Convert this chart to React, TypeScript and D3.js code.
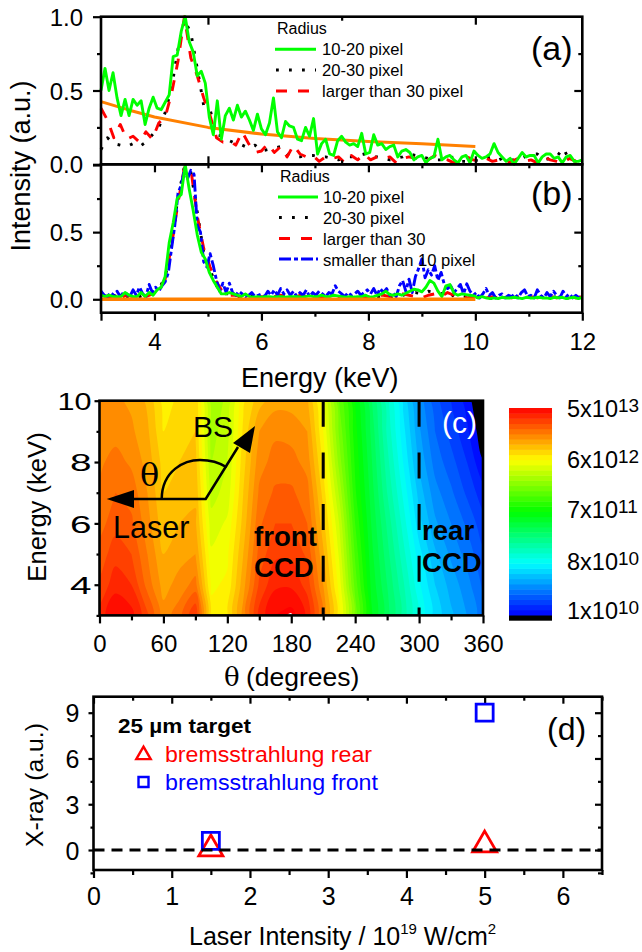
import React, { useEffect, useRef } from "react";
import * as d3 from "d3";

// panel (a), sampled every 0.075 keV
const greenStep = 0.075;
const greenA = [
  .50,.65,.50,.62,.45,.33,.44,.33,.44,.40,
  .43,.27,.38,.455,.38,.37,.42,.47,.73,.74,
  .90,1.0,.83,.76,.60,.63,.55,.32,.20,.43,
  .17,.33,.38,.30,.40,.32,.36,.30,.23,.34,
  .24,.20,.28,.45,.22,.18,.29,.26,.25,.17,
  .16,.25,.19,.31,.07,.14,.17,.07,.06,.16,
  .19,.15,.13,.14,.12,.21,.07,.08,.20,.13,
  .14,.10,.12,.13,.05,.09,.10,.08,.03,.05,
  .06,.01,.04,.05,.17,.03,.05,.06,.03,.01,
  .05,.06,.01,.09,.06,.04,.05,.07,.14,.08,
  .05,.02,.04,.00,.04,.08,.05,.06,.06,.01,
  .05,.07,.07,.04,.05,.01,.05,.06,.02,.02,
  .03,
];
const greenB = [
  .03,.02,.03,.02,.02,.02,.05,.03,.02,.02,
  .05,.02,.05,.03,.07,.09,.17,.42,.57,.75,
  .78,1.0,.82,.66,.48,.35,.30,.20,.14,.09,
  .04,.04,.05,.04,.03,.02,.04,.02,.015,.02,
  .015,.02,.02,.015,.02,.02,.015,.02,.02,.02,
  .015,.02,.025,.02,.02,.03,.02,.02,.03,.025,
  .02,.015,.02,.015,.02,.02,.03,.015,.02,.03,
  .04,.06,.035,.03,.04,.03,.045,.06,.075,.07,
  .055,.09,.14,.12,.06,.02,.10,.11,.045,.03,
  .04,.035,.03,.025,.01,.02,.01,.005,.01,.005,
  .015,.01,.01,.015,.01,.005,.015,.01,.01,.015,
  .01,.01,.005,.015,.01,.015,.005,.01,.015,.005,
  .015,
];

// the broken lines, sampled every 0.12 keV
const brokenStep = 0.12;
const blackA = [
  .10,.18,.14,.13,.12,.14,.12,.15,.20,.25,
  .35,.52,.78,.98,.89,.65,.40,.37,.20,.19,
  .16,.14,.13,.11,.13,.09,.10,.11,.12,.07,
  .05,.05,.06,.06,.05,.05,.04,.03,.05,.05,
  .06,.07,.05,.05,.04,.03,.04,.05,.07,.06,
  .05,.04,.03,.03,.04,.05,.02,.02,.03,.02,
  .04,.05,.03,.05,.03,.03,.05,.07,.07,.03,
  .04,.05,.11,.03,.02,.03,
];
const redA = [
  .38,.30,.18,.27,.17,.19,.15,.22,.17,.28,
  .32,.48,.70,1.0,.72,.60,.45,.33,.18,.15,
  .16,.13,.22,.14,.08,.09,.14,.08,.12,.05,
  .13,.07,.05,.06,.02,.05,.04,.05,.01,.06,
  .03,.07,.03,.05,.04,.05,.01,.04,.05,.04,
  .05,.03,.06,.04,.03,.01,.04,.05,.03,.02,
  .04,.02,.03,.01,.02,.04,.02,.03,.01,.05,
  .03,.02,.01,.04,.02,.05,
];
const blackB = [
  .03,.02,.03,.01,.02,.03,.02,.04,.05,.08,
  .16,.42,.76,.99,.95,.65,.35,.22,.10,.04,
  .04,.02,.02,.03,.02,.01,.02,.01,.02,.01,
  .02,.01,.02,.03,.01,.02,.01,.02,.02,.01,
  .02,.03,.01,.02,.02,.01,.02,.03,.04,.05,
  .04,.06,.05,.04,.06,.02,.03,.02,.02,.01,
  0,.01,.02,.01,.02,.01,.01,.02,.01,.02,
  .01,.02,.01,.01,.02,.01,
];
const redB = [
  .03,.02,.02,.01,.03,.02,.01,.02,.04,.07,
  .15,.40,.72,.98,.97,.62,.38,.24,.13,.05,
  .03,.03,.02,.02,.01,.02,.01,.02,.03,.02,
  .01,.03,.02,.01,.02,.01,.03,.02,.01,.02,
  .03,.01,.02,.03,.03,.02,.03,.04,.03,.02,
  .01,.03,.04,.02,.05,.03,.02,.01,.02,.01,
  .01,.02,.01,.02,.01,.02,.01,.02,.01,.02,
  .02,.01,.02,.02,.01,.02,
];

// blue is noisier, sampled every 0.06 keV
const blueStep = 0.06;
const blueB = [
  .06,.03,.02,.05,.03,.06,.02,.05,.04,.02,
  .07,.03,.09,.04,.02,.11,.05,.09,.06,.10,
  .13,.20,.38,.55,.79,.85,.97,.90,.96,.93,
  .55,.50,.28,.24,.34,.25,.14,.06,.12,.05,
  .12,.05,.03,.06,.04,.02,.03,.05,.02,.03,
  .04,.02,.06,.03,.07,.03,.08,.04,.07,.03,
  .06,.02,.05,.03,.07,.02,.05,.03,.06,.04,
  .02,.05,.04,.10,.06,.04,.02,.05,.03,.04,
  .06,.03,.05,.07,.04,.08,.03,.08,.05,.08,
  .03,.05,.02,.10,.14,.06,.15,.05,.17,.23,
  .30,.16,.22,.18,.25,.14,.20,.11,.08,.10,
  .05,.08,.11,.04,.115,.06,.03,.05,.01,.04,
  .08,.03,.05,.01,.03,.04,.01,.03,.02,.04,
  .01,.05,.07,.02,.03,.01,.07,.03,.01,.05,
  .02,.06,.03,.01,.06,.02,.04,.01,.03,.01,.02,
];

const orangeEnergy = [3, 3.5, 4, 5, 6, 7, 8, 9, 10];
const orangeA = [.425, .37, .32, .25, .205, .175, .155, .14, .12];
const orangeB = [0, 0, 0, 0, 0, 0, 0, 0, 0];

// panel (c): colour level per theta column, for E = 3..10 keV
const thetaStep = 15;
const energyRows = [3, 4, 5, 6, 7, 8, 9, 10];
const levelColumns = [
  [.96,.93,.91,.89,.88,.87,.86,.85],
  [1.0,.965,.94,.915,.90,.885,.865,.855],
  [.985,.95,.925,.905,.89,.87,.855,.845],
  [.93,.89,.875,.86,.85,.84,.83,.82],
  [.86,.84,.825,.81,.80,.79,.775,.765],
  [.89,.86,.84,.825,.815,.80,.79,.78],
  [.95,.885,.85,.83,.82,.81,.80,.795],
  [.76,.745,.73,.71,.69,.675,.665,.66],
  [.77,.755,.745,.73,.71,.70,.69,.68],
  [.86,.84,.825,.81,.80,.79,.78,.77],
  [.96,.93,.91,.895,.88,.865,.85,.815],
  [1.0,.97,.945,.925,.905,.885,.87,.84],
  [1.011,.97,.945,.925,.905,.885,.865,.84],
  [.97,.94,.92,.90,.885,.865,.85,.83],
  [.87,.85,.83,.81,.79,.77,.75,.735],
  [.76,.74,.72,.70,.67,.64,.62,.60],
  [.615,.59,.57,.55,.53,.52,.51,.50],
  [.48,.47,.46,.45,.44,.43,.42,.405],
  [.41,.40,.385,.37,.35,.335,.32,.31],
  [.34,.33,.31,.29,.27,.25,.235,.22],
  [.27,.255,.235,.21,.19,.17,.155,.14],
  [.215,.20,.18,.155,.135,.115,.10,.085],
  [.18,.165,.145,.125,.105,.085,.065,.05],
  [.15,.135,.115,.095,.07,.05,.03,.015],
  [.11,.095,.08,.06,.035,.002,-.02,-.04],
];
const colorBands = 40;
const colorbarLabels = [
  ["5x10", "13"],
  ["6x10", "12"],
  ["7x10", "11"],
  ["8x10", "10"],
  ["1x10", "10"],
];
const ccdLines = [210, 300];

// panel (d)
const rearIntensity = [1.5, 5];
const rearXray = [0.07, 0.33];
const frontIntensity = [1.5, 5];
const frontXray = [0.6, 9];

const font = "'Liberation Sans', Arial, sans-serif";

function App() {
  const ref = useRef<SVGSVGElement>(null);

  useEffect(() => {
    const svg = d3.select(ref.current);
    svg.selectAll("*").remove();
    svg.attr("font-family", font).attr("fill", "#000");

    const addAxis = (make, scale, at, values, size, labels?, tickFont = 24, pad = 0) => {
      const vertical = make === d3.axisLeft || make === d3.axisRight;
      const g = svg
        .append("g")
        .attr("transform", vertical ? `translate(${at},0)` : `translate(0,${at})`)
        .call(
          make(scale)
            .tickValues(values)
            .tickSize(size)
            .tickPadding(pad)
            .tickFormat(labels ? labels : () => "")
        );
      g.select(".domain").remove();
      g.selectAll("line").attr("stroke", "#000").attr("stroke-width", 2.2);
      g.selectAll("text").attr("font-size", tickFont).attr("font-family", font).attr("fill", "#000");
      return g;
    };

    const addText = (x, y, str, size, opts: any = {}) => {
      const t = svg
        .append("text")
        .attr("x", x)
        .attr("y", y)
        .attr("font-size", size)
        .attr("fill", opts.fill || "#000")
        .attr("font-weight", opts.weight || "normal")
        .text(str);
      if (opts.family) t.attr("font-family", opts.family);
      if (opts.length) t.attr("textLength", opts.length).attr("lengthAdjust", "spacingAndGlyphs");
      return t;
    };

    const frame = (x0, x1, y0, y1) =>
      svg
        .append("rect")
        .attr("x", x0)
        .attr("y", y0)
        .attr("width", x1 - x0)
        .attr("height", y1 - y0)
        .attr("fill", "none")
        .attr("stroke", "#000")
        .attr("stroke-width", 2.6);

    // ---- panels (a) and (b)
    const x = d3.scaleLinear().domain([3, 12]).range([101, 582.3]);
    const yA = d3.scaleLinear().domain([0, 1]).range([164.3, 16.7]);
    const yB = d3.scaleLinear().domain([-0.1, 1]).range([312.7, 165]);

    const plotLine = (energy, values, y, stroke, width, dash?) => {
      const line = d3
        .line<number>()
        .x((_, i) => x(energy(i)))
        .y((d) => y(d));
      const p = svg
        .append("path")
        .attr("d", line(values))
        .attr("fill", "none")
        .attr("stroke", stroke)
        .attr("stroke-width", width)
        .attr("stroke-linejoin", "round");
      if (dash) p.attr("stroke-dasharray", dash);
    };
    const atGreen = (i) => 3 + i * greenStep;
    const atBroken = (i) => 3 + i * brokenStep;
    const atBlue = (i) => 3 + i * blueStep;
    const atOrange = (i) => orangeEnergy[i];

    const dotted = "2.8 10.2";
    const dashed = "11 11";
    const dashDot = "12 3 4 3";
    const lineWidth = 2.9;

    plotLine(atBroken, blackA, yA, "#000", lineWidth, dotted);
    plotLine(atBroken, redA, yA, "#ff0000", lineWidth, dashed);
    plotLine(atOrange, orangeA, yA, "#ff8000", 3);
    plotLine(atGreen, greenA, yA, "#00ff00", lineWidth);

    plotLine(atBroken, blackB, yB, "#000", lineWidth, dotted);
    plotLine(atBroken, redB, yB, "#ff0000", lineWidth, dashed);
    plotLine(atBlue, blueB, yB, "#0000ff", lineWidth, dashDot);
    plotLine(atGreen, greenB, yB, "#00ff00", lineWidth);
    plotLine(atOrange, orangeB, yB, "#ff8000", 3.5);

    frame(101, 582.3, 16.7, 164.3);
    frame(101, 582.3, 164.3, 312.7);

    // a: ticks inside along x
    addAxis(d3.axisBottom, x, 164.3, [5, 10], -8);
    addAxis(d3.axisBottom, x, 164.3, [7.5], -4);
    addAxis(d3.axisTop, x, 16.7, [5, 10], -8);
    addAxis(d3.axisTop, x, 16.7, [7.5], -4);
    addAxis(d3.axisLeft, yA, 101, [0, 0.5, 1], 8, (d) => d3.format(".1f")(d), 24, 10).selectAll("text").attr("dy", "0.36em");
    addAxis(d3.axisLeft, yA, 101, [0.25, 0.75], 4);
    addAxis(d3.axisRight, yA, 582.3, [0.5], -8);
    addAxis(d3.axisRight, yA, 582.3, [0.25, 0.75], -4);

    // b
    const evenE = [4, 6, 8, 10, 12];
    const oddE = [5, 7, 9, 11];
    addAxis(d3.axisTop, x, 164.3, [4, 6, 8, 10], -8);
    addAxis(d3.axisTop, x, 164.3, oddE, -4);
    const bx = addAxis(d3.axisBottom, x, 312.7, [3, ...evenE], 8, (d) => (d === 3 ? "" : String(d)), 24);
    bx.selectAll("text").attr("dy", null).attr("y", 37);
    addAxis(d3.axisBottom, x, 312.7, oddE, 4);
    addAxis(d3.axisLeft, yB, 101, [0, 0.5, 1], 8, (d) => (d === 1 ? "" : d3.format(".1f")(d)), 24, 10).selectAll("text").attr("dy", "0.36em");
    addAxis(d3.axisLeft, yB, 101, [0.25, 0.75], 4);
    addAxis(d3.axisRight, yB, 582.3, [0.5], -8);
    addAxis(d3.axisRight, yB, 582.3, [0.25, 0.75], -4);

    const legendKey = (x0, x1, y, stroke, dash?) => {
      const k = svg
        .append("line")
        .attr("x1", x0)
        .attr("x2", x1)
        .attr("y1", y)
        .attr("y2", y)
        .attr("stroke", stroke)
        .attr("stroke-width", lineWidth);
      if (dash) k.attr("stroke-dasharray", dash);
    };
    addText(277, 34, "Radius", 16);
    legendKey(275, 316, 49.3, "#00ff00");
    legendKey(276, 316, 70, "#000", dotted);
    legendKey(276, 316, 91, "#ff0000", dashed);
    addText(322, 55, "10-20 pixel", 16.6);
    addText(322, 76, "20-30 pixel", 16.6);
    addText(322, 97, "larger than 30 pixel", 16.6);

    addText(280, 182, "Radius", 16);
    legendKey(278, 318, 197, "#00ff00");
    legendKey(279, 318, 217.5, "#000", dotted);
    legendKey(279, 318, 238.5, "#ff0000", dashed);
    legendKey(279, 318, 259, "#0000ff", dashDot);
    addText(323, 203, "10-20 pixel", 16.6);
    addText(323, 224, "20-30 pixel", 16.6);
    addText(323, 245, "larger than 30", 16.6);
    addText(323, 265.5, "smaller than 10 pixel", 16.6);

    addText(531, 60, "(a)", 34);
    addText(531, 205, "(b)", 34);
    addText(241, 387, "Energy (keV)", 27);
    addText(0, 0, "Intensity (a.u.)", 27)
      .attr("text-anchor", "middle")
      .attr("transform", "translate(30,166) rotate(-90)");

    // ---- panel (c)
    const tx = d3.scaleLinear().domain([0, 360]).range([99.5, 483]);
    const ey = d3.scaleLinear().domain([3, 10]).range([615.4, 400.7]);
    const level = d3
      .scaleLinear<string>()
      .domain([0, 0.25, 0.5, 0.75, 1])
      .range(["#0000ff", "#00ffff", "#00ff00", "#ffff00", "#ff0000"]);
    const thresholds = d3.range(colorBands + 1).map((k) => k / colorBands);

    const nx = levelColumns.length;
    const ny = energyRows.length;
    const grid: number[] = [];
    energyRows.forEach((_, j) => levelColumns.forEach((col) => grid.push(col[j])));
    const bands = d3.contours().size([nx, ny]).thresholds([...thresholds, 1.008])(grid);

    // contour rings drawn with a round curve so the lobes are not faceted
    const ringLine = d3
      .line<number[]>()
      .x((p) => tx((p[0] - 0.5) * thetaStep))
      .y((p) => ey(energyRows[0] + p[1] - 0.5))
      .curve(d3.curveCatmullRomClosed.alpha(0.5));
    const bandPath = (band) =>
      band.coordinates
        .flatMap((polygon) => polygon.map((ring) => ringLine(ring.slice(0, -1))))
        .join("");

    svg
      .append("clipPath")
      .attr("id", "heat-clip")
      .append("rect")
      .attr("x", tx(0))
      .attr("y", ey(10))
      .attr("width", tx(360) - tx(0))
      .attr("height", ey(3) - ey(10));
    const heat = svg.append("g").attr("clip-path", "url(#heat-clip)");
    heat
      .append("rect")
      .attr("x", tx(0))
      .attr("y", ey(10))
      .attr("width", tx(360) - tx(0))
      .attr("height", ey(3) - ey(10))
      .attr("fill", "#000");
    heat
      .selectAll("path")
      .data(bands)
      .enter()
      .append("path")
      .attr("d", bandPath)
      .attr("fill-rule", "evenodd")
      .attr("fill", (d) => (d.value > 1 ? "#fff" : level(Math.min(1, d.value + 0.5 / colorBands))));

    ccdLines.forEach((t) =>
      svg
        .append("line")
        .attr("x1", tx(t))
        .attr("x2", tx(t))
        .attr("y1", ey(10))
        .attr("y2", ey(3))
        .attr("stroke", "#000")
        .attr("stroke-width", 3)
        .attr("stroke-dasharray", "26 25.7")
    );

    frame(tx(0), tx(360), ey(10), ey(3));
    const cy = addAxis(d3.axisLeft, ey, tx(0), [4, 6, 8, 10], 5, (d) => String(d), 24, 3);
    cy.selectAll("text")
      .attr("dy", "0.36em")
      .attr("textLength", (d) => (d === 10 ? 34 : 21.5))
      .attr("lengthAdjust", "spacingAndGlyphs");
    addAxis(d3.axisLeft, ey, tx(0), [3, 5, 7, 9], 3);
    const cx = addAxis(d3.axisBottom, tx, ey(3), d3.range(0, 361, 60), 8, (d) => String(d), 24);
    cx.selectAll("text").attr("dy", null).attr("y", 37);
    addAxis(d3.axisBottom, tx, ey(3), d3.range(30, 360, 60), 5);

    // beam sketch
    const sketch = svg.append("g").attr("fill", "none").attr("stroke", "#000").attr("stroke-width", 2.5);
    sketch.append("path").attr("d", "M130,499H205.7L238,447");
    sketch.append("path").attr("d", "M161.7,499C162,470 185,460 200,460C210,460 220,463 226.7,467.3");
    svg.append("path").attr("d", "M106.7,499L134,490V508Z");
    svg.append("path").attr("d", "M255,426L250,453L233,443Z");
    addText(140, 486, "θ", 32, { family: "'DejaVu Serif', serif" });
    addText(193, 437, "BS", 30);
    addText(113, 538, "Laser", 30.5);
    addText(254, 546, "front", 27.6, { weight: "bold" });
    addText(254, 577, "CCD", 27.6, { weight: "bold" });
    addText(422, 540, "rear", 27.6, { weight: "bold" });
    addText(422, 572, "CCD", 27.6, { weight: "bold" });
    addText(442, 433, "(c)", 30, { fill: "#fff" });
    addText(0, 0, "Energy (keV)", 25.6)
      .attr("text-anchor", "middle")
      .attr("transform", "translate(46,507) rotate(-90)");
    addText(224, 686, "θ", 26, { family: "'DejaVu Serif', serif" });
    addText(246, 686, "(degrees)", 26.5);

    // colour bar
    const barY = d3.scaleLinear().domain([0, 1]).range([615, 408]);
    const barStep = 1 / colorBands;
    svg
      .append("rect")
      .attr("x", 509)
      .attr("y", barY(0))
      .attr("width", 43)
      .attr("height", 5.7)
      .attr("fill", "#000");
    svg
      .append("g")
      .selectAll("rect")
      .data(thresholds.slice(0, colorBands))
      .enter()
      .append("rect")
      .attr("x", 509)
      .attr("y", (d) => barY(d + barStep))
      .attr("width", 43)
      .attr("height", barY(0) - barY(barStep) + 0.5)
      .attr("fill", (d) => level(d + barStep / 2));
    const barBaselines = [416.7, 468, 518, 570, 619];
    colorbarLabels.forEach(([m, e], i) => {
      const t = addText(567, barBaselines[i], "", 23.5);
      t.append("tspan").text(m);
      t.append("tspan").attr("font-size", 19).attr("dy", -5).text(e);
    });

    // ---- panel (d)
    const ix = d3.scaleLinear().domain([0, 6.5]).range([93.5, 602]);
    const ry = d3.scaleLinear().domain([0, 9]).range([850, 712.7]);
    const top = 696.7;
    const bottom = 870;

    frame(ix(0), ix(6.5), top, bottom);
    const wholes = [0, 1, 2, 3, 4, 5, 6];
    const halves = [0.5, 1.5, 2.5, 3.5, 4.5, 5.5, 6.5];
    const dx = addAxis(d3.axisBottom, ix, bottom, wholes, 8, (d) => String(d), 25);
    dx.selectAll("text").attr("dy", null).attr("y", 35);
    addAxis(d3.axisBottom, ix, bottom, halves, 5);
    addAxis(d3.axisTop, ix, top, wholes, -7);
    addAxis(d3.axisTop, ix, top, halves, -4);
    addAxis(d3.axisLeft, ry, ix(0), [0, 3, 6, 9], 5, (d) => String(d), 25, 9).selectAll("text").attr("dy", "0.36em");
    addAxis(d3.axisLeft, ry, ix(0), [-1.5, 1.5, 4.5, 7.5], 3);
    addAxis(d3.axisRight, ry, ix(6.5), [0, 3, 6, 9], -7);
    addAxis(d3.axisRight, ry, ix(6.5), [-1.5, 1.5, 4.5, 7.5], -4);

    const tri = d3.symbol(d3.symbolTriangle, 250)();
    const sq = d3.symbol(d3.symbolSquare, 289)();
    rearIntensity.forEach((v, i) =>
      svg
        .append("path")
        .attr("d", tri)
        .attr("transform", `translate(${ix(v)},${ry(rearXray[i])})`)
        .attr("fill", "none")
        .attr("stroke", "#ff0000")
        .attr("stroke-width", 2.8)
    );
    frontIntensity.forEach((v, i) =>
      svg
        .append("path")
        .attr("d", sq)
        .attr("transform", `translate(${ix(v)},${ry(frontXray[i])})`)
        .attr("fill", "none")
        .attr("stroke", "#0000ff")
        .attr("stroke-width", 2.8)
    );
    svg
      .append("line")
      .attr("x1", ix(0))
      .attr("x2", ix(6.5))
      .attr("y1", ry(0))
      .attr("y2", ry(0))
      .attr("stroke", "#000")
      .attr("stroke-width", 2.9)
      .attr("stroke-dasharray", "11 7");

    svg
      .append("path")
      .attr("d", d3.symbol(d3.symbolTriangle, 90)())
      .attr("transform", "translate(143.5,755)")
      .attr("fill", "none")
      .attr("stroke", "#ff0000")
      .attr("stroke-width", 2.4);
    svg
      .append("path")
      .attr("d", d3.symbol(d3.symbolSquare, 100)())
      .attr("transform", "translate(143.5,782)")
      .attr("fill", "none")
      .attr("stroke", "#0000ff")
      .attr("stroke-width", 2.4);
    addText(118, 733, "25 µm target", 20, { weight: "bold", length: 133 });
    addText(165, 762, "bremsstrahlung rear", 22.5, { fill: "#ff0000", length: 207 });
    addText(165, 790, "bremsstrahlung front", 22.5, { fill: "#0000ff", length: 213 });
    addText(547, 740, "(d)", 32);
    addText(0, 0, "X-ray (a.u.)", 24.8)
      .attr("text-anchor", "middle")
      .attr("transform", "translate(43,785) rotate(-90)");

    const xl = addText(189, 945, "", 25);
    xl.append("tspan").text("Laser Intensity / 10");
    xl.append("tspan").attr("font-size", 15).attr("dy", -11).text("19");
    xl.append("tspan").attr("dy", 11).text(" W/cm");
    xl.append("tspan").attr("font-size", 15).attr("dy", -11).text("2");
  }, []);

  return (
    <svg
      ref={ref}
      width={642}
      height={952}
      style={{ position: "absolute", left: 0, top: 0, display: "block", background: "#fff" }}
    />
  );
}

export default App;
